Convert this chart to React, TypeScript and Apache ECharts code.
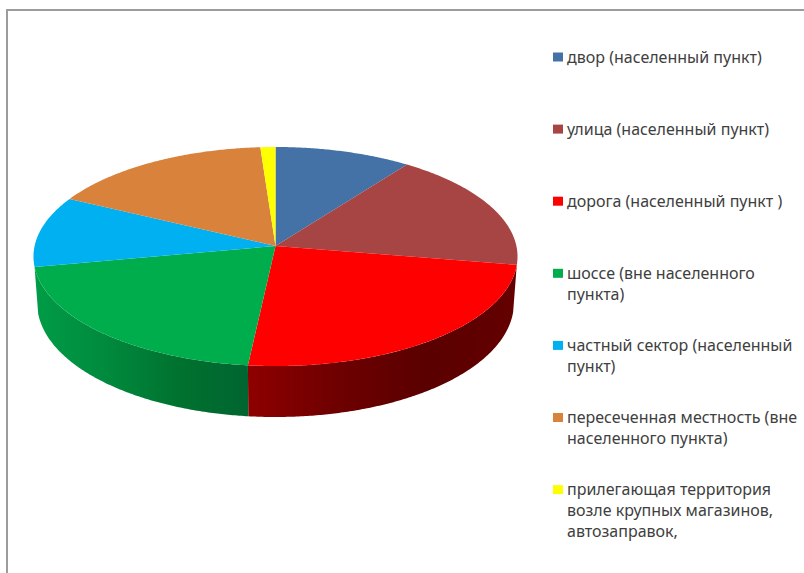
import React, { useEffect, useRef } from "react";
import * as echarts from "echarts";

const categories = [
  "двор (населенный пункт)",
  "улица (населенный пункт)",
  "дорога (населенный пункт )",
  "шоссе (вне населенного\nпункта)",
  "частный сектор (населенный\nпункт)",
  "пересеченная местность (вне\nнаселенного пункта)",
  "прилегающая территория\nвозле крупных магазинов,\nавтозаправок,",
];
const values = [10.0, 17.7, 23.9, 20.3, 10.5, 16.4, 1.1];
const colors = ["#4472A6", "#A64543", "#FF0000", "#00AD4C", "#00B0F0", "#D8823C", "#FFFF00"];
const wallStops: (string[] | null)[] = [
  null,
  null,
  ["#8E0000", "#6E0000", "#5A0000", "#640000"],
  ["#009C46", "#008A3E", "#00722F", "#006530"],
  null,
  null,
  null,
];

const total = values.reduce((a, b) => a + b, 0);
const CX = 275.5;
const APEX_Y = 246;
const SCALE_X = 240.9;
const SCALE_Y = 108.5;
const PERSPECTIVE = -0.0959;
const WALL_FROM = 100;
const WALL_TO = 259.5;

function rim(deg: number) {
  const t = (deg * Math.PI) / 180;
  const u = Math.sin(t);
  const v = -Math.cos(t);
  const w = 1 + PERSPECTIVE * v;
  return { x: CX + (SCALE_X * u) / w, y: APEX_Y + (SCALE_Y * v) / w, v };
}

function arc(from: number, to: number) {
  const pts: { x: number; y: number; v: number }[] = [];
  const n = Math.max(2, Math.ceil((to - from) * 2));
  for (let i = 0; i <= n; i++) pts.push(rim(from + ((to - from) * i) / n));
  return pts;
}

function renderSlice(params: any, api: any) {
  const i = params.dataIndex;
  const before = values.slice(0, i).reduce((a, b) => a + b, 0);
  const start = (before / total) * 360;
  const end = start + (api.value(0) / total) * 360;
  const children: any[] = [];
  const a = Math.max(start, WALL_FROM);
  const b = Math.min(end, WALL_TO);
  const stops = wallStops[i];
  if (stops && b > a) {
    const top = arc(a, b).map((p) => [p.x, p.y]);
    const bottom = arc(a, b)
      .reverse()
      .map((p) => [CX + (p.x - CX) * 0.985, p.y + 46 + 5 * Math.max(0, p.v)]);
    children.push({
      type: "polygon",
      shape: { points: [...top, ...bottom] },
      style: {
        fill: new echarts.graphic.LinearGradient(
          0, 0, 1, 0,
          stops.map((color, k) => ({ offset: k / (stops.length - 1), color }))
        ),
      },
    });
  }
  children.push({
    type: "polygon",
    shape: { points: [[CX, APEX_Y], ...arc(start, end).map((p) => [p.x, p.y])] },
    style: { fill: colors[i] },
  });
  return { type: "group", children };
}

export default function App() {
  const ref = useRef<HTMLDivElement>(null);
  useEffect(() => {
    document.body.style.margin = "0";
    const chart = echarts.init(ref.current!, undefined, { renderer: "svg" });
    const legend: any[] = [];
    categories.forEach((name, i) => {
      const top = 46.5 + i * 72.1;
      legend.push({
        type: "rect",
        shape: { x: 553, y: top + 6, width: 10, height: 9 },
        style: { fill: colors[i] },
      });
      legend.push({
        type: "text",
        x: 567,
        y: top - 0.5,
        style: {
          text: name,
          fill: "#404040",
          font: '16px "Noto Sans"',
          lineHeight: 21,
          textVerticalAlign: "top",
        },
      });
    });
    chart.setOption({
      animation: false,
      backgroundColor: "#ffffff",
      graphic: [
        {
          type: "polyline",
          shape: { points: [[7, 573], [7, 10], [804, 10]] },
          style: { stroke: "#9C9C9C", lineWidth: 2, fill: "none" },
        },
        ...legend,
      ],
      series: [
        {
          type: "custom",
          coordinateSystem: "none",
          renderItem: renderSlice,
          data: values,
          silent: true,
        },
      ],
    });
    return () => chart.dispose();
  }, []);
  return <div ref={ref} style={{ position: "absolute", left: 0, top: 0, width: 804, height: 573 }} />;
}
